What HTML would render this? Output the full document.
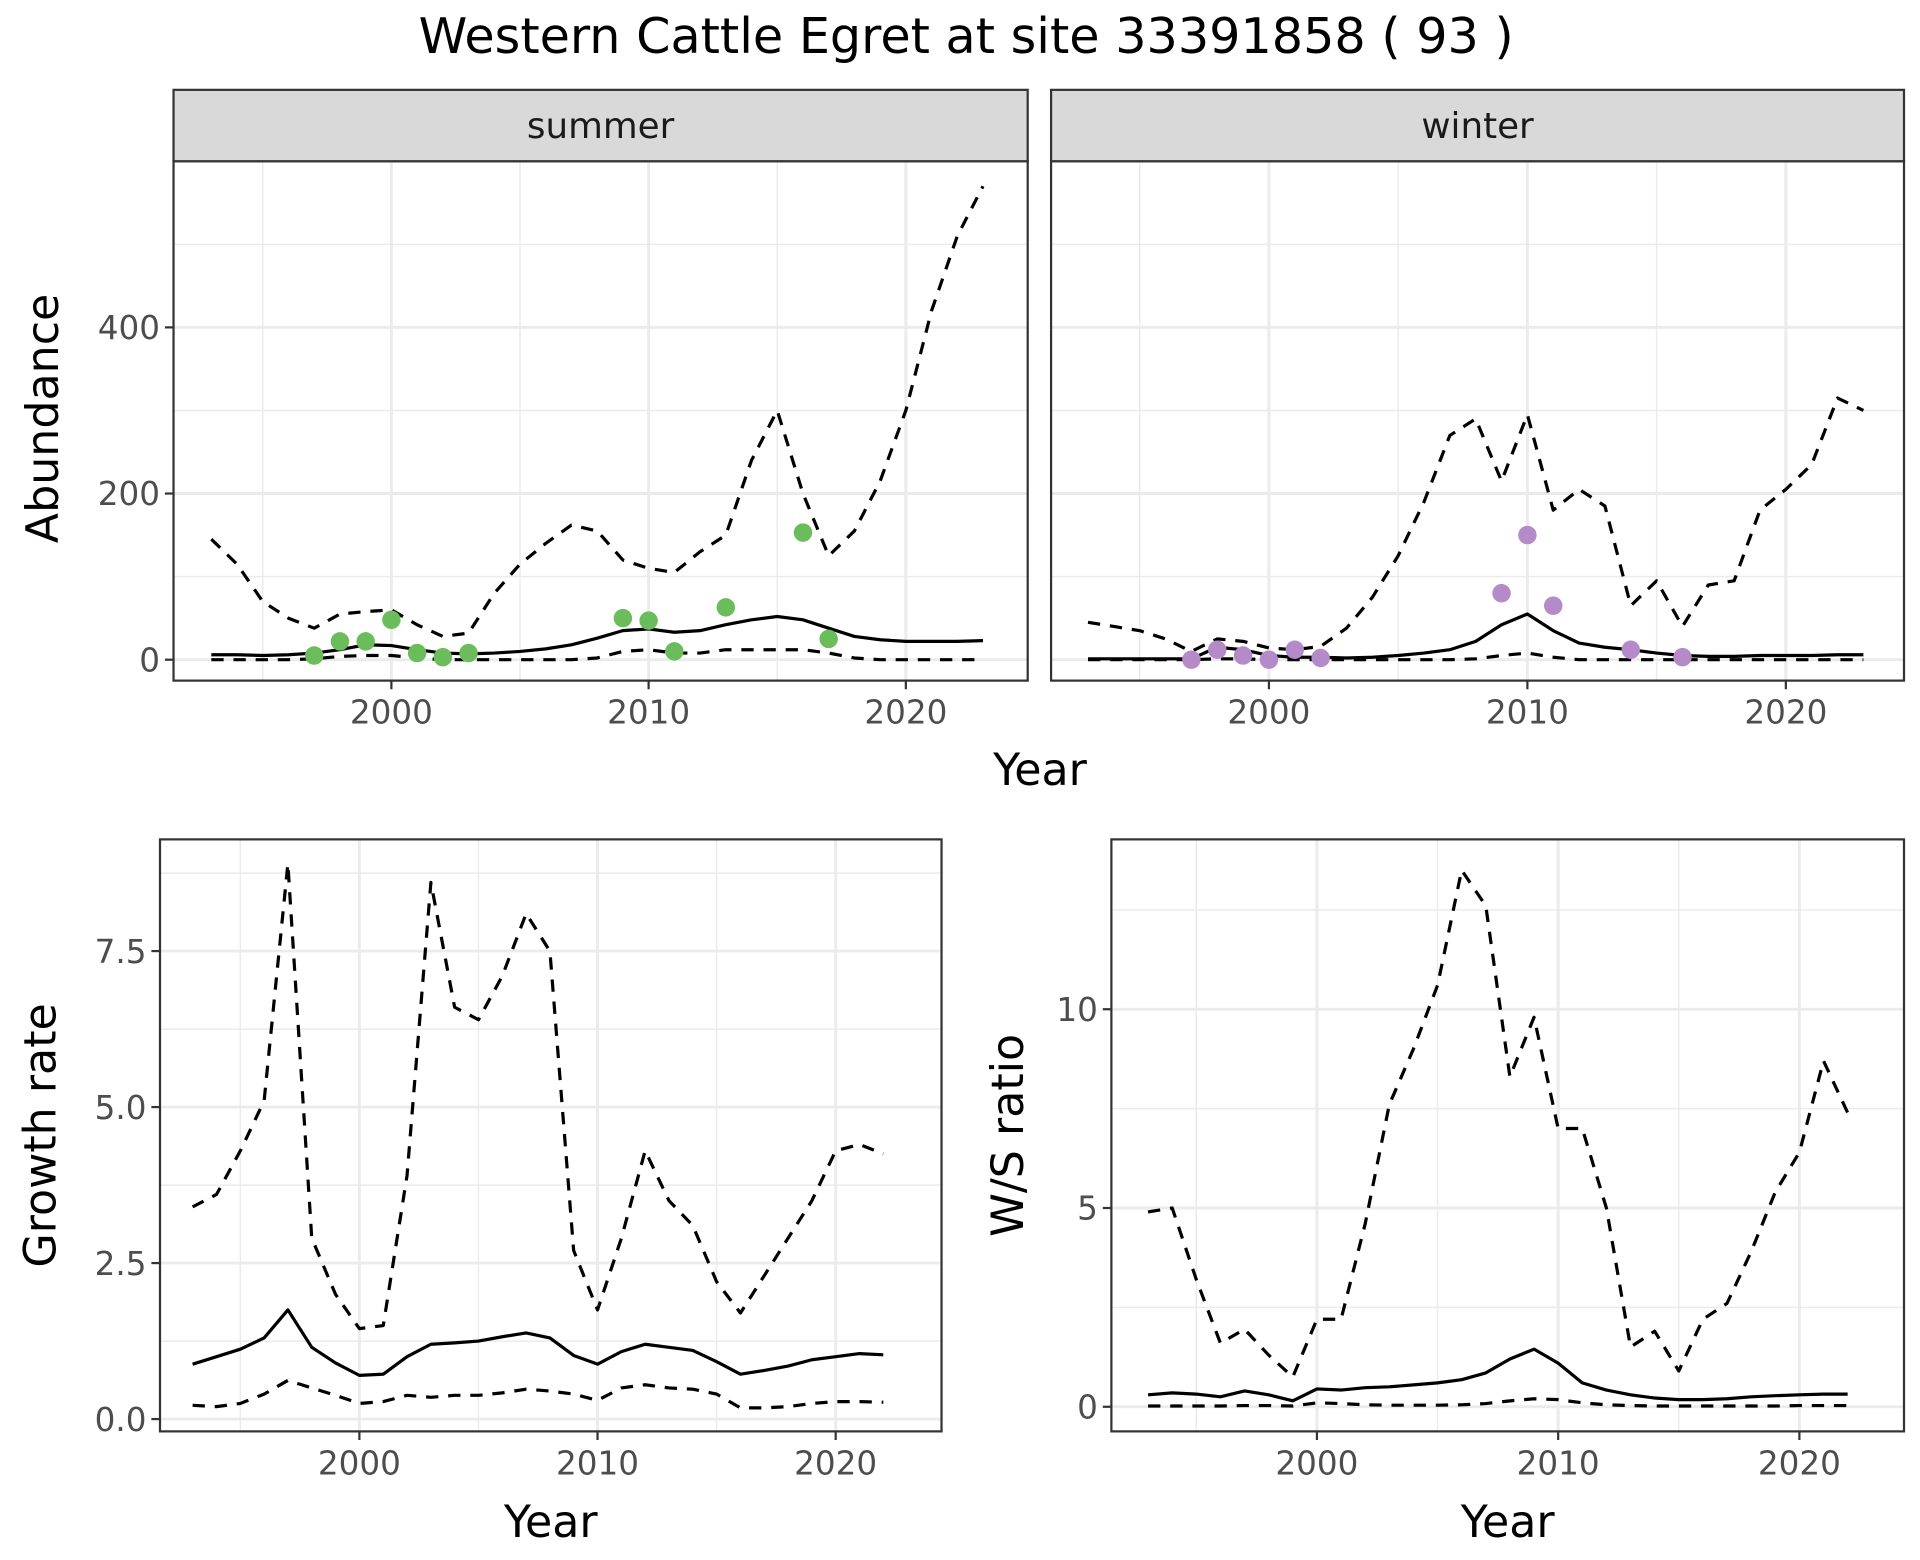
<!DOCTYPE html>
<html><head><meta charset="utf-8"><style>
html,body{margin:0;padding:0;background:#fff;}
svg{display:block;font-family:"DejaVu Sans","Liberation Sans",sans-serif;}
</style></head><body>
<svg id="chart" width="1920" height="1560" viewBox="0 0 1560 1267.5" xmlns="http://www.w3.org/2000/svg">
<text x="785" y="43" font-size="40" text-anchor="middle" fill="#000">Western Cattle Egret at site 33391858 ( 93 )</text>
</svg>
<script>
const years = [];
for (let y = 1993; y <= 2023; y++) years.push(y);
const summerMean = [6,6,5,6,8,12,18,17,12,8,7,8,10,13,18,26,35,37,33,35,42,48,52,48,38,28,24,22,22,22,23];
const summerUpper = [145,115,70,50,38,55,58,60,42,28,32,80,115,140,162,155,120,110,105,130,150,240,300,200,125,155,215,300,420,510,570];
const summerLower = [0,0,0,0,1,4,5,5,2,0,0,0,0,0,0,2,10,12,8,8,12,12,12,12,8,2,0,0,0,0,0];
const summerObsYears = [1997,1998,1999,2000,2001,2002,2003,2009,2010,2011,2013,2016,2017];
const summerObs = [5,22,22,48,8,3,8,50,47,10,63,153,25];
const winterMean = [1,1,1,1,1,15,12,5,3,3,2,3,5,8,12,22,42,55,35,20,15,12,8,5,4,4,5,5,5,6,6];
const winterUpper = [45,40,35,25,10,25,22,14,12,16,38,75,125,190,270,290,215,295,180,205,185,65,95,40,90,95,180,205,235,315,300];
const winterLower = [0,0,0,0,0,1,1,0,0,0,0,0,0,0,0,1,5,8,3,0,0,0,0,0,0,0,0,0,0,0,0];
const winterObsYears = [1997,1998,1999,2000,2001,2002,2009,2010,2011,2014,2016];
const winterObs = [0,12,5,0,12,2,80,150,65,12,3];
const years2 = years.slice(0, 30);
const growthMean = [0.88,1.0,1.12,1.3,1.75,1.15,0.9,0.7,0.72,1.0,1.2,1.22,1.25,1.32,1.38,1.3,1.02,0.88,1.08,1.2,1.15,1.1,0.92,0.72,0.78,0.85,0.95,1.0,1.05,1.03];
const growthUpper = [3.4,3.6,4.3,5.1,8.9,2.9,2.0,1.45,1.5,3.9,8.6,6.6,6.4,7.1,8.1,7.5,2.7,1.75,2.9,4.3,3.5,3.1,2.2,1.7,2.3,2.9,3.5,4.3,4.4,4.25];
const growthLower = [0.22,0.2,0.25,0.4,0.62,0.5,0.38,0.25,0.28,0.38,0.35,0.38,0.38,0.42,0.48,0.45,0.4,0.3,0.5,0.55,0.5,0.48,0.4,0.18,0.18,0.2,0.25,0.28,0.28,0.27];
const ratioMean = [0.3,0.35,0.32,0.25,0.4,0.3,0.15,0.45,0.42,0.48,0.5,0.55,0.6,0.68,0.85,1.2,1.45,1.1,0.6,0.42,0.3,0.22,0.18,0.18,0.2,0.25,0.28,0.3,0.32,0.32];
const ratioUpper = [4.9,5.0,3.2,1.6,1.95,1.3,0.75,2.2,2.2,4.6,7.6,9.0,10.6,13.5,12.6,8.3,9.8,7.0,7.0,5.0,1.5,1.9,0.9,2.2,2.6,3.9,5.4,6.4,8.7,7.4];
const ratioLower = [0.02,0.02,0.02,0.02,0.03,0.03,0.02,0.1,0.08,0.05,0.04,0.04,0.04,0.05,0.08,0.15,0.2,0.18,0.1,0.05,0.03,0.02,0.02,0.02,0.02,0.02,0.02,0.03,0.03,0.03];
const xTicks = [2000, 2010, 2020];
const abundTicks = [0, 200, 400];
const growthTicks = [0, 2.5, 5, 7.5];
const growthTickLabels = ["0.0","2.5","5.0","7.5"];
const ratioTicks = [0, 5, 10];

const NS = "http://www.w3.org/2000/svg";
const svg = document.getElementById('chart');
function el(tag, attrs, parent) {
  const e = document.createElementNS(NS, tag);
  for (const k in attrs) e.setAttribute(k, attrs[k]);
  (parent || svg).appendChild(e);
  return e;
}
function panel(p) {
  const g = el('g', {});
  
  
  const sx = v => p.x0 + (v - 2000) * p.xs;
  const sy = v => p.y0 - v * p.ys;
  el('rect', {x:p.l, y:p.t, width:p.r-p.l, height:p.b-p.t, fill:'#fff'}, g);
  for (let yr = 1995; yr <= 2020; yr += 10) { const x = sx(yr); if (x>p.l && x<p.r) el('line',{x1:x,x2:x,y1:p.t,y2:p.b,stroke:'#ebebeb','stroke-width':1.2},g); }
  p.minor.forEach(v => { const y = sy(v); if (y>p.t && y<p.b) el('line',{x1:p.l,x2:p.r,y1:y,y2:y,stroke:'#ebebeb','stroke-width':1.2},g); });
  xTicks.forEach(yr => el('line',{x1:sx(yr),x2:sx(yr),y1:p.t,y2:p.b,stroke:'#ebebeb','stroke-width':2.4},g));
  p.yt.forEach(v => el('line',{x1:p.l,x2:p.r,y1:sy(v),y2:sy(v),stroke:'#ebebeb','stroke-width':2.4},g));
  const line = (xs, ys, dash, nm) => {
    const pts = xs.map((x,i)=>sx(x).toFixed(1)+','+sy(ys[i]).toFixed(1)).join(' ');
    const pl = el('polyline',{points:pts,fill:'none',stroke:'#000','stroke-width':2.6,'stroke-dasharray':dash?'10,8':'none','stroke-linejoin':'round'},g);
    
    
  };
  line(p.xs_, p.upper, true, 'upper-bound-line');
  line(p.xs_, p.lower, true, 'lower-bound-line');
  line(p.xs_, p.mean, false, 'mean-line');
  if (p.obsX) p.obsX.forEach((yr,i) => {
    const c = el('circle',{cx:sx(yr),cy:sy(p.obs[i]),r:7.5,fill:p.color},g);
    
    
  });
  el('rect',{x:p.l,y:p.t,width:p.r-p.l,height:p.b-p.t,fill:'none',stroke:'#333','stroke-width':1.8},g);
  if (p.strip) {
    el('rect',{x:p.l,y:p.t-58,width:p.r-p.l,height:58,fill:'#d9d9d9',stroke:'#333','stroke-width':1.8},g);
    const st = el('text',{x:(p.l+p.r)/2,y:p.t-19,'font-size':29,'text-anchor':'middle',fill:'#1a1a1a'},g);
    st.textContent = p.strip;
    
    
  }
  xTicks.forEach(yr => {
    el('line',{x1:sx(yr),x2:sx(yr),y1:p.b,y2:p.b+7,stroke:'#333','stroke-width':1.8},g);
    const t = el('text',{x:sx(yr),y:p.b+35,'font-size':26.5,'text-anchor':'middle',fill:'#4d4d4d'},g);
    t.textContent = yr;
    
    
  });
  if (p.ylabels) p.yt.forEach((v,i) => {
    el('line',{x1:p.l-7,x2:p.l,y1:sy(v),y2:sy(v),stroke:'#333','stroke-width':1.8},g);
    const t = el('text',{x:p.l-11,y:sy(v)+9.5,'font-size':26.5,'text-anchor':'end',fill:'#4d4d4d'},g);
    t.textContent = p.ylabels[i];
    
    
  });
  if (p.ytitle) {
    const cy = (p.t+p.b)/2 + (p.ytOff||0);
    const t = el('text',{x:p.ytx,y:cy,'font-size':36,'text-anchor':'middle',fill:'#000',transform:`rotate(-90 ${p.ytx} ${cy})`},g);
    t.textContent = p.ytitle;
    
    
  }
  if (p.xtitle) {
    const t = el('text',{x:(p.l+p.r)/2,y:1249,'font-size':36,'text-anchor':'middle',fill:'#000'},g);
    t.textContent = 'Year';
    
    
  }
}
panel({name:'summer-panel',l:141,r:835,t:131,b:553,x0:318,xs:20.9,y0:536,ys:0.675,yt:abundTicks,minor:[100,300,500],ylabels:abundTicks.map(String),
  xs_:years,mean:summerMean,upper:summerUpper,lower:summerLower,obsX:summerObsYears,obs:summerObs,color:'#6bbd5c',strip:'summer',ytitle:'Abundance',ytx:47,ytOff:-2});
panel({name:'winter-panel',l:854,r:1547,t:131,b:553,x0:1031,xs:21.0,y0:536,ys:0.675,yt:abundTicks,minor:[100,300,500],
  xs_:years,mean:winterMean,upper:winterUpper,lower:winterLower,obsX:winterObsYears,obs:winterObs,color:'#b48ac8',strip:'winter'});
const yr1 = el('text',{x:845,y:638,'font-size':36,'text-anchor':'middle',fill:'#000'});
yr1.textContent = 'Year';


panel({name:'growth-rate-panel',l:130,r:765,t:682,b:1163,x0:292,xs:19.35,y0:1153,ys:50.7,yt:growthTicks,minor:[1.25,3.75,6.25,8.75],ylabels:growthTickLabels,
  xs_:years2,mean:growthMean,upper:growthUpper,lower:growthLower,ytitle:'Growth rate',ytx:45,xtitle:true});
panel({name:'ws-ratio-panel',l:903,r:1547,t:682,b:1163,x0:1070,xs:19.6,y0:1143,ys:32.3,yt:ratioTicks,minor:[2.5,7.5,12.5],ylabels:ratioTicks.map(String),
  xs_:years2,mean:ratioMean,upper:ratioUpper,lower:ratioLower,ytitle:'W/S ratio',ytx:831,xtitle:true});
</script>
</body></html>
